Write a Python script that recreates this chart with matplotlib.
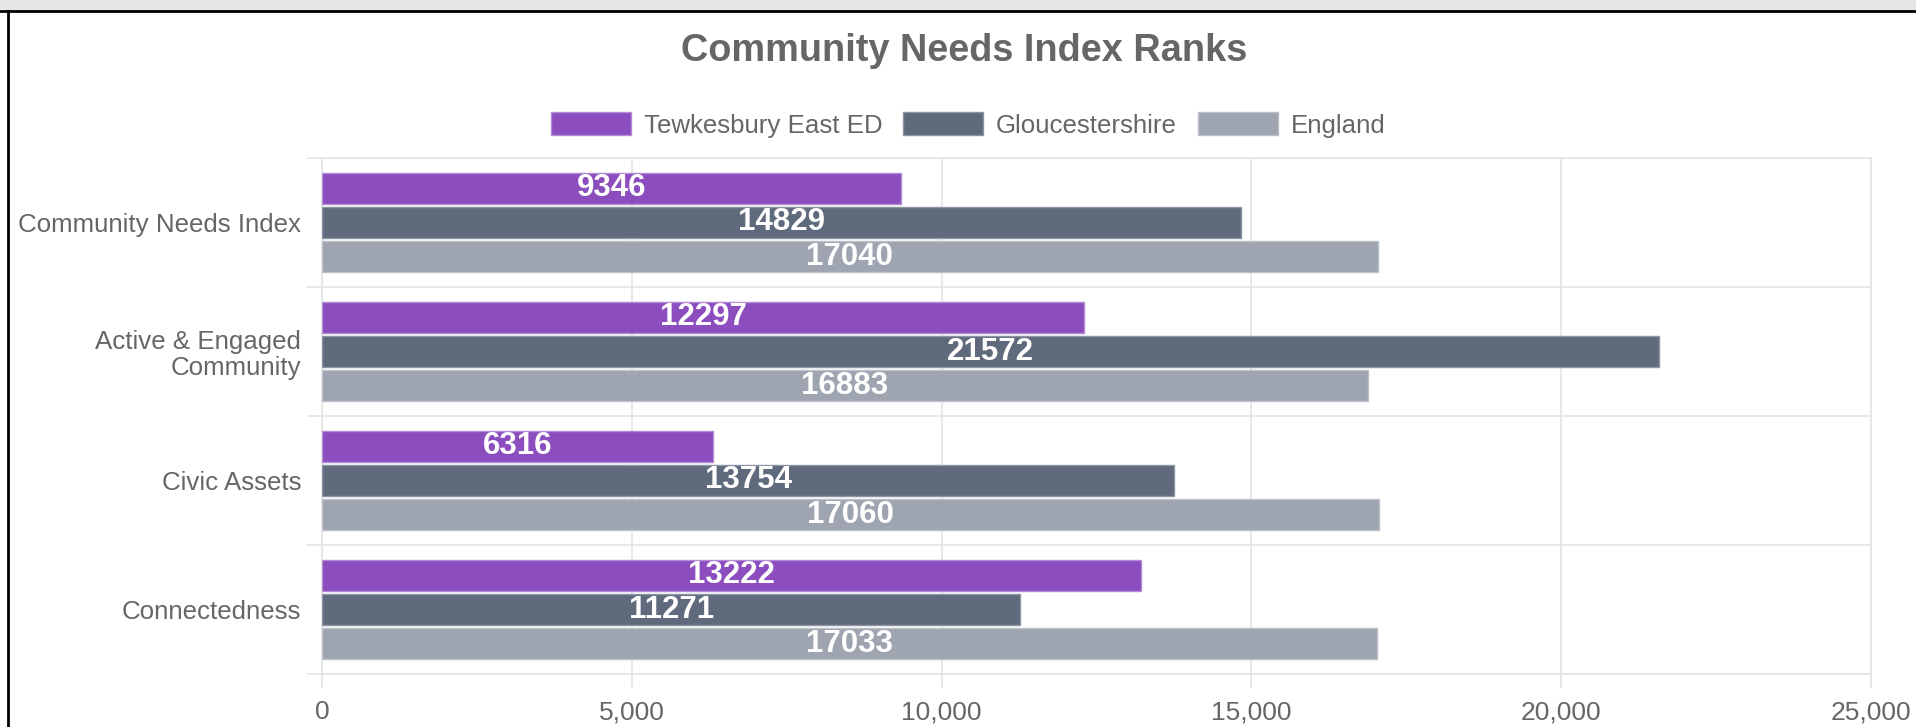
import numpy as np
import matplotlib
matplotlib.use('Agg')
import matplotlib.pyplot as plt
from matplotlib.patches import Rectangle
from matplotlib.lines import Line2D
from matplotlib.ticker import FuncFormatter, FixedLocator

plt.rcParams['font.family'] = ['Liberation Sans', 'DejaVu Sans']

categories = ['Community Needs Index', 'Active & Engaged\nCommunity', 'Civic Assets', 'Connectedness']
series_names = ['Tewkesbury East ED', 'Gloucestershire', 'England']
tewkesbury = [9346, 12297, 6316, 13222]
gloucestershire = [14829, 21572, 13754, 11271]
england = [17040, 16883, 17060, 17033]
x_ticks = [0, 5000, 10000, 15000, 20000, 25000]

colors = ['#8C4DBE', '#5F6A7D', '#9EA5B1']
edges = ['#B48AD6', '#8C95A3', '#BCC1CA']
grey_txt = '#666666'
grid_col = '#E4E4E4'

fig = plt.figure(figsize=(19.16, 7.27), dpi=100)
fig.patch.set_facecolor('white')

# frame de la captura: franja grisa i vores negres
fig.patches.append(Rectangle((0, 1 - 10 / 727), 1, 10 / 727, transform=fig.transFigure,
                             facecolor='#E6E6E6', edgecolor='none', zorder=0))
fig.lines.append(Line2D([0, 1], [1 - 11 / 727] * 2, transform=fig.transFigure, color='black', lw=2))
fig.lines.append(Line2D([8 / 1916] * 2, [0, 1 - 11 / 727], transform=fig.transFigure, color='black', lw=2))

ax = fig.add_axes([322 / 1916, 53 / 727, (1871 - 322) / 1916, (674 - 158) / 727])

y = np.arange(len(categories))
slot = 0.8 / 3
h = slot * 0.9
all_series = [tewkesbury, gloucestershire, england]
for k, vals in enumerate(all_series):
    pos = y + (k - 1) * slot
    ax.barh(pos, vals, height=h, color=colors[k], edgecolor=edges[k], linewidth=1,
            label=series_names[k], zorder=3)
    for yy, v in zip(pos, vals):
        ax.text(v / 2, yy, str(v), ha='center', va='center', color='white',
                fontsize=22.5, fontweight='bold', zorder=4)

ax.set_xlim(0, 25000)
ax.set_ylim(len(categories) - 0.5, -0.5)
ax.xaxis.set_major_locator(FixedLocator(x_ticks))
ax.xaxis.set_major_formatter(FuncFormatter(lambda v, p: f'{int(v):,}'))
ax.set_yticks(y)
ax.set_yticklabels(categories, color=grey_txt, fontsize=18.6, linespacing=1.1)
ax.set_yticks(np.arange(len(categories) + 1) - 0.5, minor=True)

ax.tick_params(axis='y', which='major', length=0, pad=15)
ax.tick_params(axis='y', which='minor', length=11, color=grid_col, width=1.2)
ax.tick_params(axis='x', which='major', length=10, color=grid_col, width=1.2,
               labelsize=19, labelcolor=grey_txt, pad=9)

ax.grid(axis='x', which='major', color=grid_col, lw=1.2, zorder=0)
ax.grid(axis='y', which='minor', color=grid_col, lw=1.2, zorder=0)
for s in ax.spines.values():
    s.set_color(grid_col)
    s.set_linewidth(1.2)

fig.text(964 / 1916, 1 - 51 / 727, 'Community Needs Index Ranks', ha='center', va='center',
         fontsize=27.3, fontweight='bold', color=grey_txt)

fig.legend(loc='center', bbox_to_anchor=(968 / 1916, 1 - 125 / 727), ncol=3, frameon=False,
           fontsize=18.6, handlelength=3.1, handleheight=0.95, handletextpad=0.5,
           columnspacing=0.8, labelcolor=grey_txt)

fig.savefig('out.png', dpi=100)
